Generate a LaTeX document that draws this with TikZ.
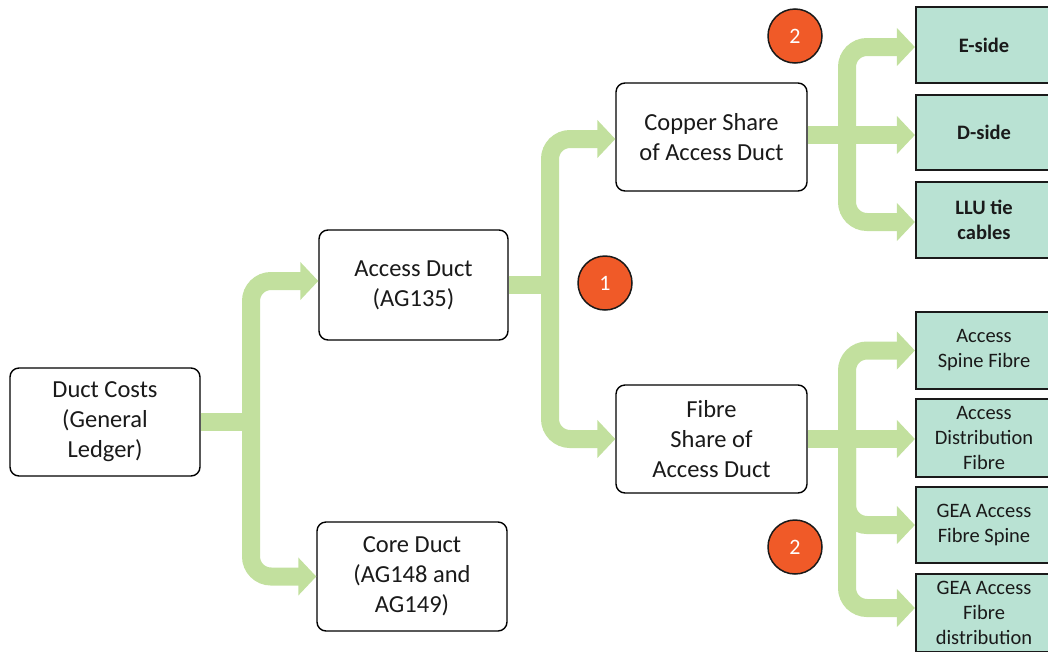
\documentclass[tikz,border=0pt]{standalone}
\usepackage{fontspec}
\setmainfont{Carlito}
\usetikzlibrary{arrows.meta}
\definecolor{flowgreen}{HTML}{C2E09E}
\definecolor{leafteal}{HTML}{B9E2D3}
\definecolor{badge}{HTML}{F05A28}
\definecolor{inkdark}{HTML}{1A1A1A}
\tikzset{
  mainbox/.style={draw=black, line width=1.4pt, rounded corners=9pt, fill=white,
    align=center, text=inkdark, inner sep=2pt,
    font=\fontsize{24.5}{30}\selectfont},
  leafbox/.style={draw=inkdark, line width=2.2pt, fill=leafteal, align=center,
    text=inkdark, minimum width=136pt, inner sep=2pt,
    font=\fontsize{20.5}{25}\selectfont},
  leafbold/.style={leafbox, font=\fontsize{20.5}{25}\selectfont\bfseries},
  badgecircle/.style={circle, draw=inkdark, line width=1.5pt, fill=badge,
    minimum size=54pt, inner sep=0pt, text=white, font=\fontsize{22}{26}\selectfont},
  flowline/.style={draw=flowgreen, line width=18pt},
  flow/.style={draw=flowgreen, line width=18pt, rounded corners=20pt,
    -{Triangle[width=37pt,length=18pt]}},
}
\begin{document}
\begin{tikzpicture}[x=1pt,y=-1pt]
\clip (0,0) rectangle (1048,651);
\useasboundingbox (0,0) rectangle (1048,651);

% main boxes
\node[mainbox, minimum width=190pt, minimum height=108pt] (dc) at (105,422) {Duct Costs\\(General\\Ledger)};
\node[mainbox, minimum width=189pt, minimum height=110pt] (ad) at (413.5,285) {Access Duct\\(AG135)};
\node[mainbox, minimum width=190pt, minimum height=109pt] (cd) at (412,576.5) {Core Duct\\(AG148 and\\AG149)};
\node[mainbox, minimum width=191pt, minimum height=108pt] (cs) at (711.5,137) {Copper Share\\of Access Duct};
\node[mainbox, minimum width=191pt, minimum height=108pt] (fs) at (711.5,439) {Fibre\\Share of\\Access Duct};

% leaf boxes
\node[leafbold, minimum height=76pt] (es) at (984,45) {E-side};
\node[leafbold, minimum height=75pt] (ds) at (984,132.5) {D-side};
\node[leafbold, minimum height=76pt] (llu) at (984,220) {LLU tie\\cables};
\node[leafbox, minimum height=77pt] (asf) at (984,350.5) {Access\\Spine Fibre};
\node[leafbox, minimum height=78pt] (adf) at (984,438) {Access\\Distribution\\Fibre};
\node[leafbox, minimum height=76pt] (gfs) at (984,525) {GEA Access\\Fibre Spine};
\node[leafbox, minimum height=78pt] (gfd) at (984,613) {GEA Access\\Fibre\\distribution};

% junctions
\coordinate (j1) at (251,422);
\coordinate (j2) at (550,285);
\coordinate (j3) at (847,135);
\coordinate (j4) at (847,439);

% flows
\draw[flowline] (dc.east) -- (j1);
\draw[flow] (j1) |- ([yshift=4pt]ad.west);
\draw[flow] (j1) |- (cd.west);

\draw[flowline] (ad.east) -- (j2);
\draw[flow] (j2) |- ([yshift=-2pt]cs.west);
\draw[flow] (j2) |- (fs.west);

\draw[flowline] (cs.east |- j3) -- (j3);
\draw[flow] (j3) |- ([yshift=-2pt]es.west);
\draw[flow] (j3) -- (j3 -| ds.west);
\draw[flow] (j3) |- ([yshift=-2pt]llu.west);

\draw[flowline] (fs.east) -- (j4);
\draw[flow] (j4) |- (asf.west);
\draw[flow] (j4) -- (j4 -| adf.west);
\draw[flow] (j4) |- (gfs.west);
\draw[flow] (j4) |- ([yshift=5pt]gfd.west);

% badges
\node[badgecircle] (b1) at (605,283) {1};
\node[badgecircle] (b2a) at (795,36) {2};
\node[badgecircle] (b2b) at (795,547) {2};
\end{tikzpicture}
\end{document}
